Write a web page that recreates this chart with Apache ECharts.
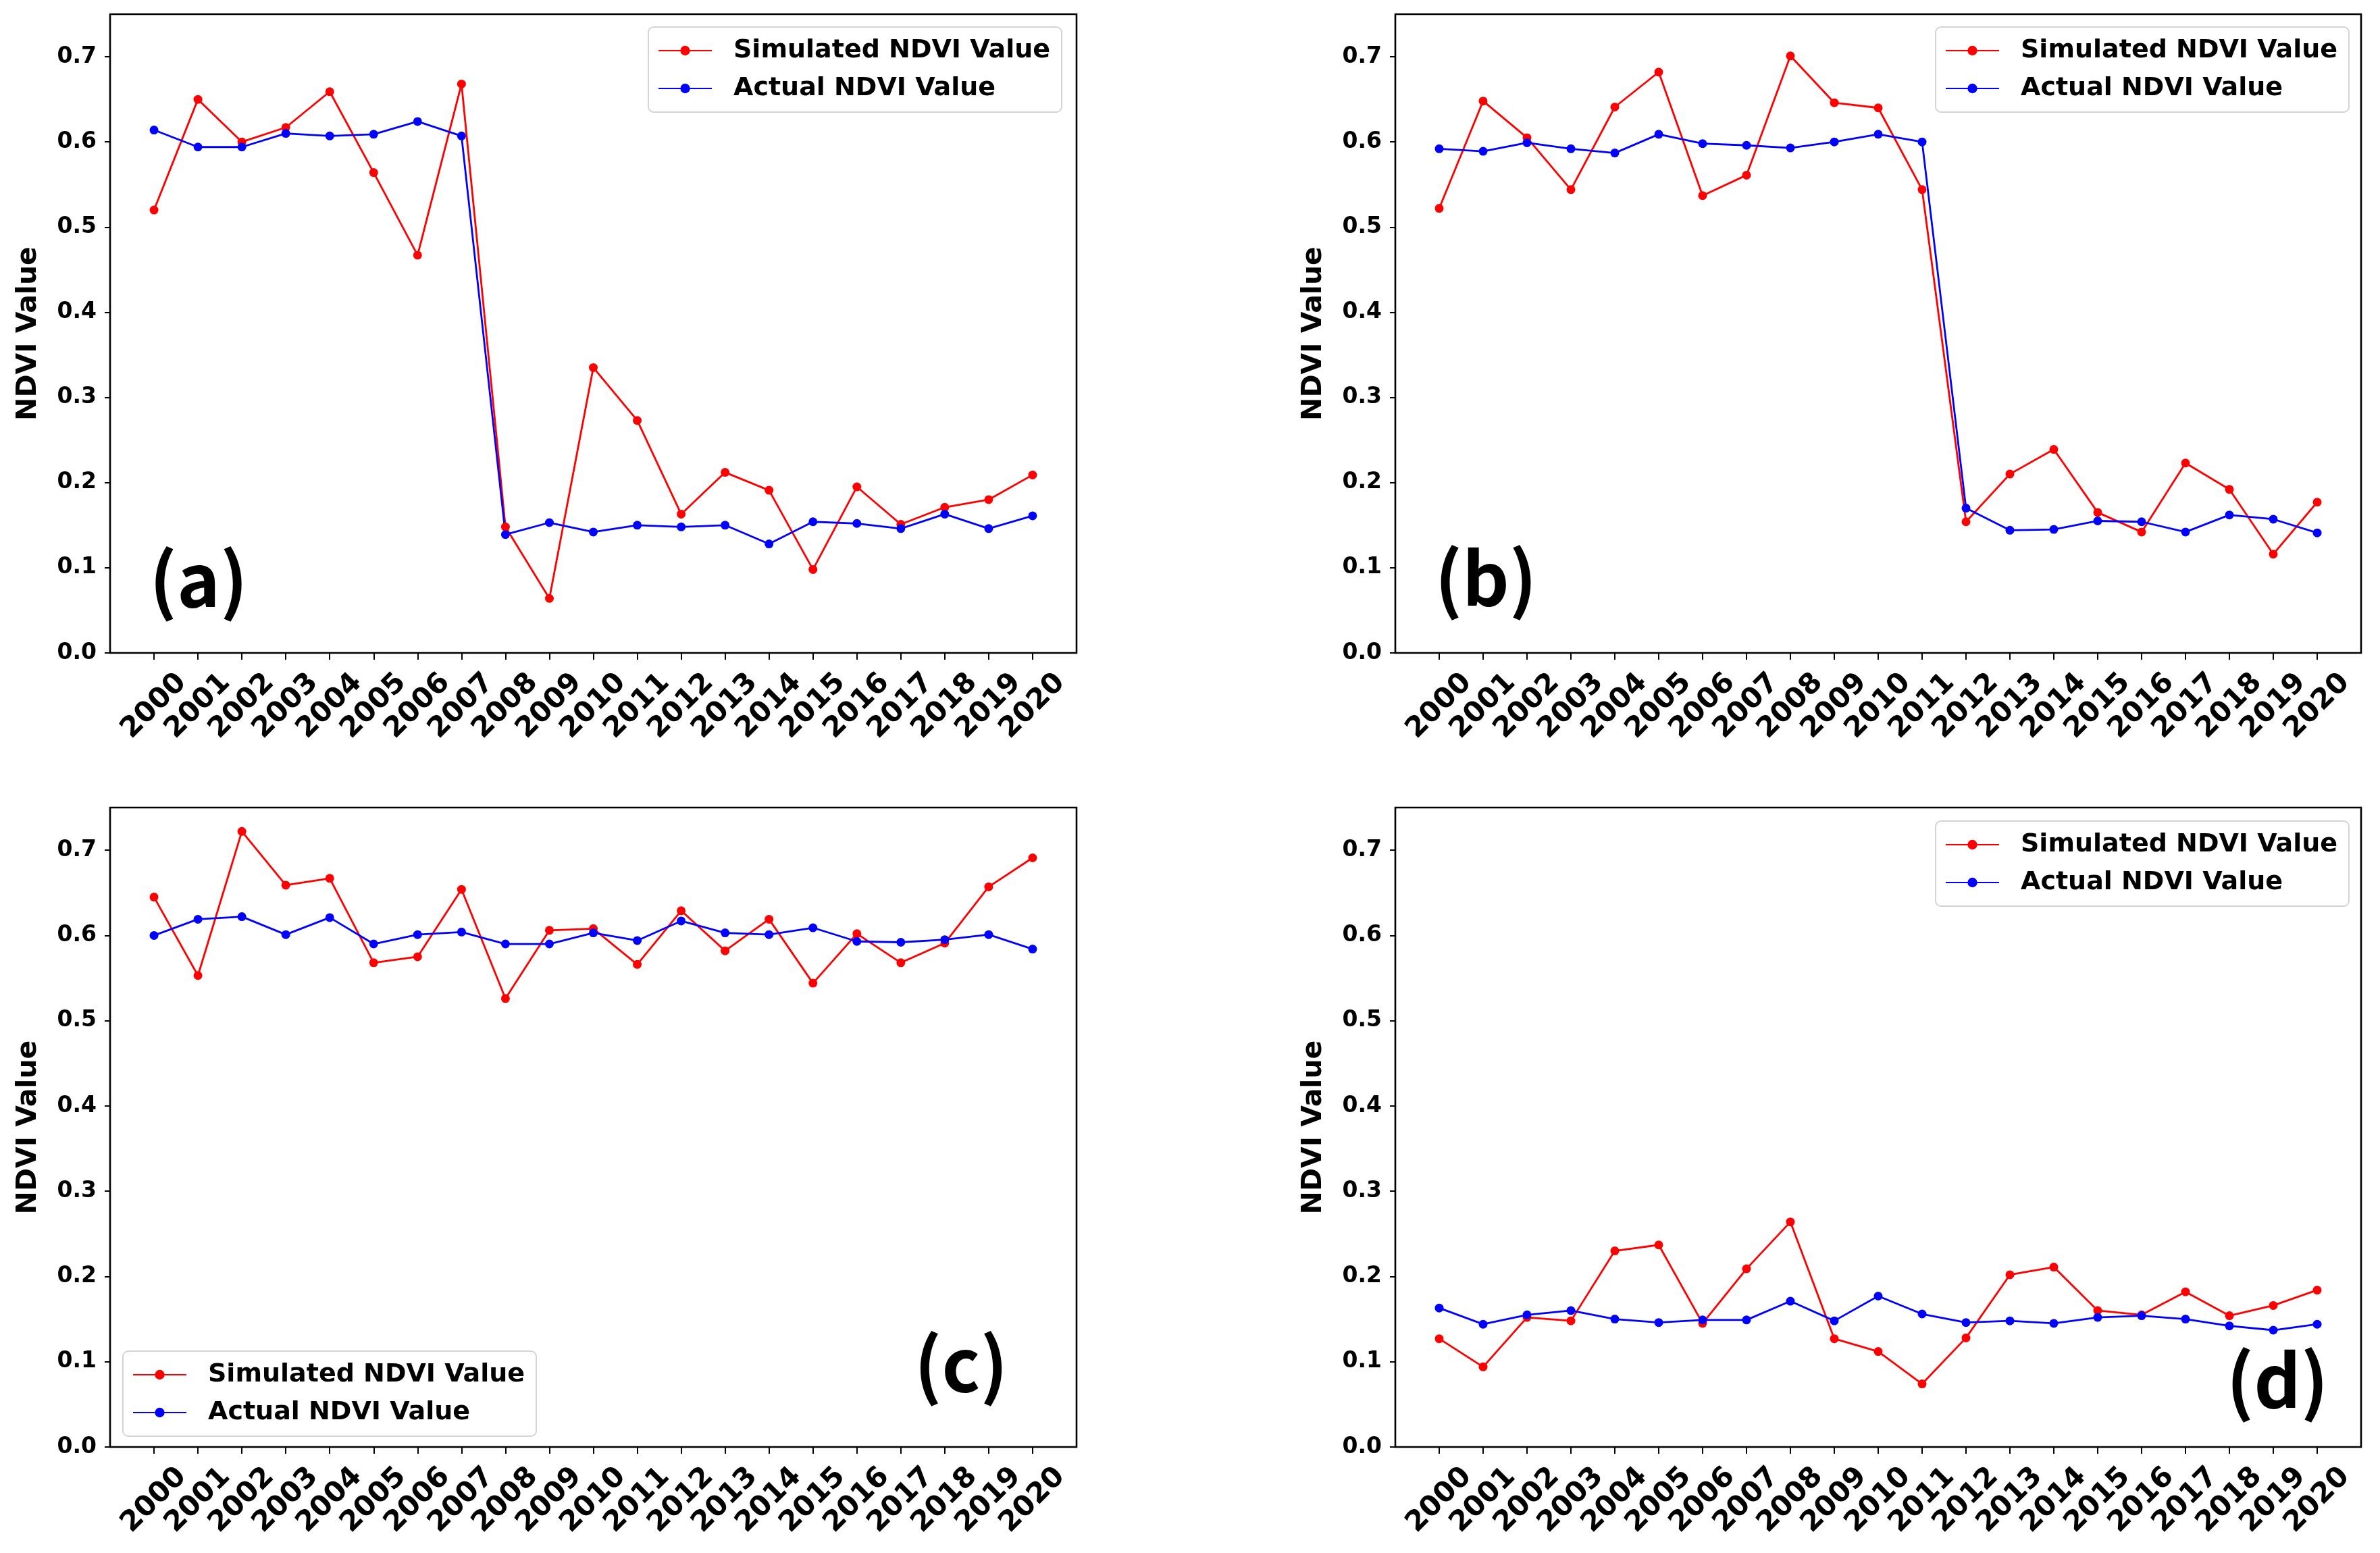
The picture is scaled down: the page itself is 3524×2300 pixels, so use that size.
<!DOCTYPE html>
<html>
<head>
<meta charset="utf-8">
<script src="https://cdn.jsdelivr.net/npm/echarts@6/dist/echarts.min.js"></script>
<style>
html,body{margin:0;padding:0;background:#fff;}
#chart{width:3524px;height:2300px;}
</style>
</head>
<body>
<div id="chart"></div>
<script>
const years = [2000,2001,2002,2003,2004,2005,2006,2007,2008,2009,2010,2011,2012,2013,2014,2015,2016,2017,2018,2019,2020];
const yTicks = [0.0,0.1,0.2,0.3,0.4,0.5,0.6,0.7];
const seriesNames = ['Simulated NDVI Value','Actual NDVI Value'];
const panelLabels = ['(a)','(b)','(c)','(d)'];

const simA = [0.520,0.650,0.600,0.617,0.659,0.564,0.467,0.668,0.148,0.064,0.335,0.273,0.163,0.212,0.191,0.098,0.195,0.151,0.171,0.180,0.209];
const actA = [0.614,0.594,0.594,0.610,0.607,0.609,0.624,0.607,0.139,0.153,0.142,0.150,0.148,0.150,0.128,0.154,0.152,0.146,0.163,0.146,0.161];
const simB = [0.522,0.648,0.605,0.544,0.641,0.682,0.537,0.561,0.701,0.646,0.640,0.544,0.154,0.210,0.239,0.165,0.142,0.223,0.192,0.116,0.177];
const actB = [0.592,0.589,0.599,0.592,0.587,0.609,0.598,0.596,0.593,0.600,0.609,0.600,0.170,0.144,0.145,0.155,0.154,0.142,0.162,0.157,0.141];
const simC = [0.645,0.553,0.722,0.659,0.667,0.568,0.575,0.654,0.526,0.606,0.608,0.566,0.629,0.582,0.619,0.544,0.602,0.568,0.591,0.657,0.691];
const actC = [0.600,0.619,0.622,0.601,0.621,0.590,0.601,0.604,0.590,0.590,0.603,0.594,0.617,0.603,0.601,0.609,0.593,0.592,0.595,0.601,0.584];
const simD = [0.127,0.094,0.152,0.148,0.230,0.237,0.145,0.209,0.264,0.127,0.112,0.074,0.128,0.202,0.211,0.160,0.155,0.182,0.154,0.166,0.184];
const actD = [0.163,0.144,0.155,0.160,0.150,0.146,0.149,0.149,0.171,0.148,0.177,0.156,0.146,0.148,0.145,0.152,0.154,0.150,0.142,0.137,0.144];

const panels = [
  {sim: simA, act: actA},
  {sim: simB, act: actB},
  {sim: simC, act: actC},
  {sim: simD, act: actD}
];

// layout (pixels)
const grids = [
  {left:163, top:21, width:1431, height:946},
  {left:2066, top:21, width:1430, height:946},
  {left:163, top:1196, width:1431, height:947},
  {left:2066, top:1196, width:1430, height:947}
];
const legendPos = [
  {left:960, top:40},
  {left:2866, top:40},
  {left:182, top:2001},
  {left:2866, top:1216}
];
const labelPos = [[294,858],[2200,856],[1423,2020],[3372,2044]];

const FONT = 'DejaVu Sans';
const COLORS = ['#ff0000','#0000ff'];

const pair = (arr) => years.map((y,i)=>[y, arr[i]]);

const option = {
  animation:false,
  backgroundColor:'#ffffff',
  grid: grids.map(g => Object.assign({show:true, borderColor:'#000', borderWidth:2.6, backgroundColor:'transparent'}, g)),
  xAxis: grids.map((g,i)=>({
    type:'value', gridIndex:i, min:1999, max:2021, interval:1,
    axisLine:{show:false},
    splitLine:{show:false},
    axisTick:{show:true, length:10, lineStyle:{color:'#000', width:2}, customValues: years},
    axisLabel:{
      show:true, customValues: years, rotate:45, margin:79,
      align:'center', verticalAlign:'middle',
      fontFamily:FONT, fontWeight:'bold', fontSize:42, color:'#000',
      formatter:(v)=>String(Math.round(v))
    }
  })),
  yAxis: grids.map((g,i)=>({
    type:'value', gridIndex:i, min:0, max:0.75, interval:0.1,
    name:'NDVI Value', nameLocation:'middle', nameGap:100, nameRotate:90,
    nameTextStyle:{fontFamily:FONT, fontWeight:'bold', fontSize:41, color:'#000'},
    axisLine:{show:false},
    splitLine:{show:false},
    axisTick:{show:true, length:8, lineStyle:{color:'#000', width:2}, customValues: yTicks},
    axisLabel:{
      show:true, customValues: yTicks, margin:20,
      fontFamily:FONT, fontWeight:'bold', fontSize:33, color:'#000',
      formatter:(v)=>v.toFixed(1)
    }
  })),
  legend: legendPos.map(p => ({
    left:p.left, top:p.top, orient:'vertical',
    data: seriesNames,
    selectedMode:false,
    itemWidth:79, itemHeight:18, itemGap:12,
    padding:[13,17,13,14],
    backgroundColor:'rgba(255,255,255,0.8)',
    borderColor:'#d4d4d4', borderWidth:2, borderRadius:8,
    textStyle:{fontFamily:FONT, fontWeight:'bold', fontSize:38, color:'#000', lineHeight:44, padding:[0,0,0,27]}
  })),
  graphic: labelPos.map((p,i)=>({
    type:'text', x:p[0], y:p[1], z:100,
    style:{text:panelLabels[i], fill:'#000', font:'bold 108px "Noto Sans CJK SC"', textAlign:'center', textVerticalAlign:'middle'}
  })),
  series: []
};

panels.forEach((p,i)=>{
  [p.sim, p.act].forEach((arr,k)=>{
    option.series.push({
      type:'line', name:seriesNames[k], xAxisIndex:i, yAxisIndex:i,
      data: pair(arr),
      symbol:'circle', symbolSize:13,
      itemStyle:{color:COLORS[k]},
      lineStyle:{color:COLORS[k], width:2.8},
      emphasis:{disabled:true}
    });
  });
});

const chart = echarts.init(document.getElementById('chart'), null, {renderer:'canvas'});
chart.setOption(option);
</script>
</body>
</html>
